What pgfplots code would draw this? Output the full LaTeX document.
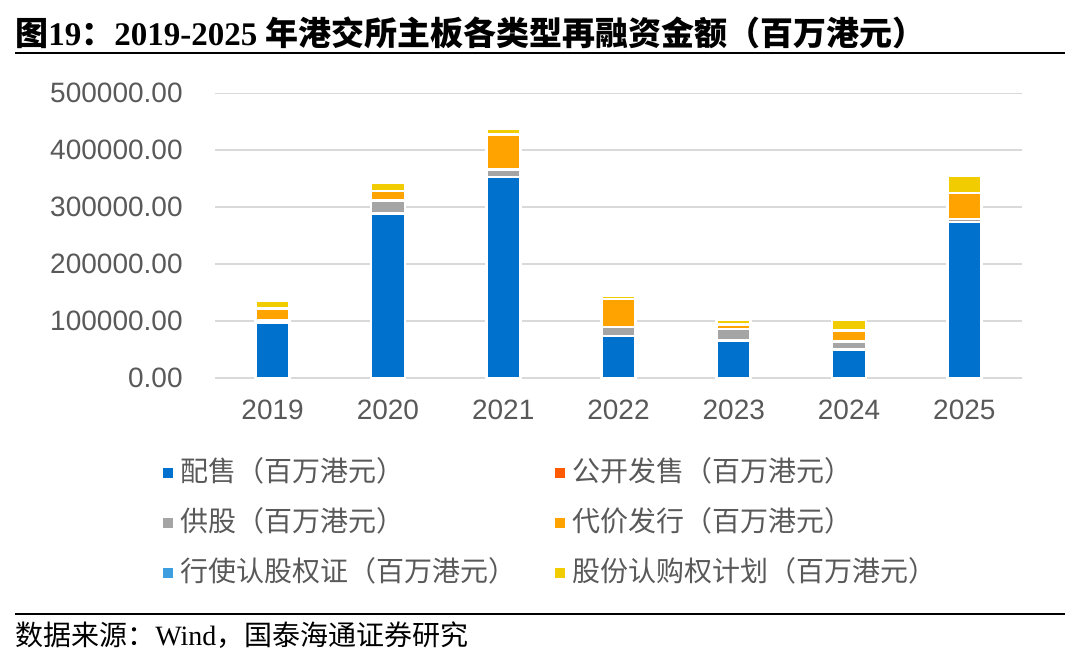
\documentclass[border=0pt]{standalone}
\usepackage{fontspec}
\usepackage{pgfplots}
\usepackage{pgfplotstable}
\pgfplotsset{compat=1.18}
\setmainfont{Liberation Sans}
\newfontfamily\cjk{Noto Sans CJK SC}
\newfontfamily\tnr{Liberation Serif}

\definecolor{cBlue}{HTML}{0072CE}
\definecolor{cRed}{HTML}{FF5A00}
\definecolor{cGrey}{HTML}{A5A5A5}
\definecolor{cOrange}{HTML}{FFA300}
\definecolor{cLight}{HTML}{3E9FE0}
\definecolor{cYellow}{HTML}{F0CC00}
\definecolor{txtgray}{HTML}{595959}
\definecolor{gridgray}{HTML}{D9D9D9}

% values in HK$ million
\pgfplotstableread{
x peishou gongkai gonggu daijia xingshi renqou
0 96600  0 4000  21100 0 13400
1 288600 0 22900 17000 0 14600
2 353000 0 13500 60900 0 11100
3 74000  0 15300 49200 0 6500
4 66200  0 19900 8200  0 8200
5 50400  0 13500 19900 0 18100
6 274000 0 5000  46000 0 31000
}\datatable

\begin{document}
\begin{tikzpicture}
\path (0,0) rectangle (540pt,330pt);

\node[anchor=west, inner sep=0pt, font=\fontsize{16.5}{18}\selectfont\bfseries]
  at (7.5pt,313.5pt) {\cjk 图\tnr 19\cjk ：\tnr 2019-2025 \cjk 年港交所主板各类型再融资金额（百万港元）};
\draw[line width=1pt] (7.5pt,303.5pt) -- (532.5pt,303.5pt);

\begin{axis}[
  at={(107.5pt,141pt)}, anchor=south west,
  scale only axis,
  width=403.5pt, height=142.35pt,
  ybar stacked,
  bar width=17pt,
  xmin=-0.5, xmax=6.5,
  ymin=0, ymax=500000,
  xtick={0,1,2,3,4,5,6},
  xticklabels={2019,2020,2021,2022,2023,2024,2025},
  ytick={0,100000,200000,300000,400000,500000},
  scaled y ticks=false,
  major tick length=0pt,
  ymajorgrids,
  grid style={gridgray, line width=0.75pt},
  axis x line*=bottom, axis y line*=left,
  x axis line style={gridgray, line width=1pt, -},
  y axis line style={draw=none},
  tick label style={font=\fontsize{14}{16}\selectfont, text=txtgray},
  xticklabel style={inner sep=0pt, anchor=center, yshift=-16pt},
  yticklabel style={inner sep=0pt, anchor=east, xshift=-16pt,
    /pgf/number format/.cd, fixed, fixed zerofill, precision=2, 1000 sep={}, assume math mode=true},
  every axis plot/.append style={draw=white, line width=1.3pt},
  legend columns=2,
  legend cell align=left,
  legend style={
    at={(-0.0644,-0.284)}, anchor=north west,
    draw=none, fill=none, inner sep=0pt,
    font=\fontsize{14}{15}\selectfont\cjk, text=txtgray,
    row sep=11.5pt,
    nodes={inner sep=0pt, text height=11pt, text depth=2.5pt},
    /tikz/every odd column/.style={column sep=3.5pt},
    /tikz/every even column/.style={column sep=0pt},
  },
  legend image code/.code={\fill[#1, draw=none] (0pt,-2.5pt) rectangle (5pt,2.5pt);},
]
\addplot[fill=cBlue] table[x=x, y=peishou] {\datatable};
\addlegendentry{\makebox[187.5pt][l]{配售（百万港元）}}
\addplot[fill=cRed, draw=none] table[x=x, y=gongkai] {\datatable};
\addlegendentry{公开发售（百万港元）}
\addplot[fill=cGrey] table[x=x, y=gonggu] {\datatable};
\addlegendentry{\makebox[187.5pt][l]{供股（百万港元）}}
\addplot[fill=cOrange] table[x=x, y=daijia] {\datatable};
\addlegendentry{代价发行（百万港元）}
\addplot[fill=cLight, draw=none] table[x=x, y=xingshi] {\datatable};
\addlegendentry{\makebox[187.5pt][l]{行使认股权证（百万港元）}}
\addplot[fill=cYellow] table[x=x, y=renqou] {\datatable};
\addlegendentry{股份认购权计划（百万港元）}
\end{axis}

\draw[line width=0.8pt] (7.5pt,23pt) -- (532.5pt,23pt);
\node[anchor=west, inner sep=0pt, font=\fontsize{14}{15}\selectfont]
  at (7.5pt,12.5pt) {\cjk 数据来源：\tnr Wind\cjk ，国泰海通证券研究};
\end{tikzpicture}
\end{document}
